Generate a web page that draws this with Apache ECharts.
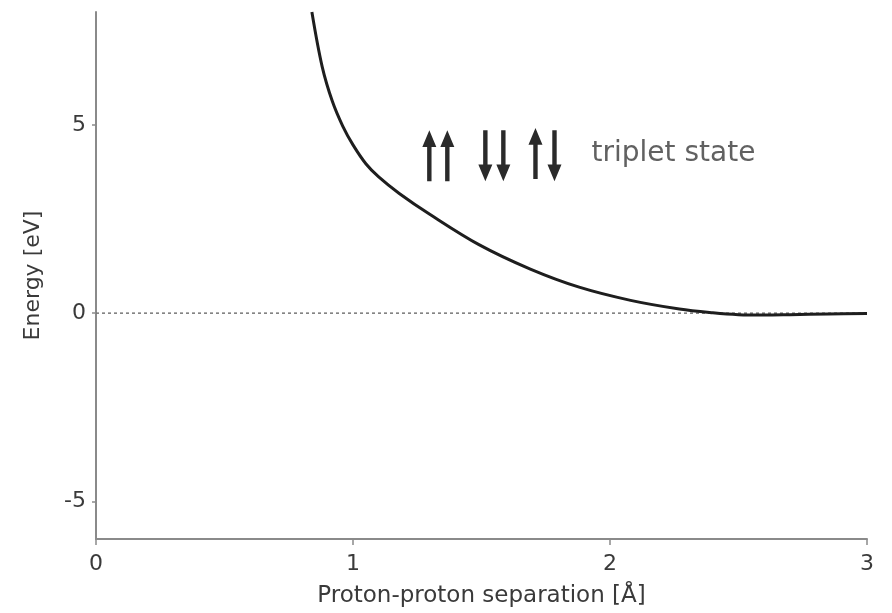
<!DOCTYPE html>
<html><head><meta charset="utf-8">
<script src="https://cdn.jsdelivr.net/npm/echarts@6/dist/echarts.min.js"></script>
<style>html,body{margin:0;padding:0;background:#fff}#c{width:892px;height:613px}</style>
</head><body><div id="c"></div>
<script>
// Triplet-state potential energy curve (Energy in eV vs proton-proton separation in Å)
const sepX = [0.84, 0.88, 0.92, 0.96, 1.00, 1.05, 1.10, 1.18, 1.30, 1.49, 1.69, 1.88, 2.08, 2.27, 2.40, 2.50, 2.60, 2.70, 2.85, 3.0];
const energyY = [8.0, 6.55, 5.62, 4.97, 4.47, 3.97, 3.62, 3.18, 2.62, 1.82, 1.17, 0.69, 0.34, 0.11, 0.01, -0.04, -0.05, -0.04, -0.02, -0.01];
const xTicks = [0, 1, 2, 3];
const yTicks = [-5, 0, 5];
// spin arrows of the triplet state: up-up, down-down, up-down
const arrowDir = ['up', 'up', 'down', 'down', 'up', 'down'];
const arrowX = [1.297, 1.367, 1.515, 1.585, 1.710, 1.784];
const arrowY = [4.18, 4.18, 4.18, 4.18, 4.24, 4.18];
const stateLabel = 'triplet state';
const stateX = 1.928;
const stateY = 4.23;
const xName = 'Proton-proton separation [Å]';
const yName = 'Energy [eV]';

const upPath = 'path://M7,0 L14,17 L9.2,17 L9.2,52 L4.8,52 L4.8,17 L0,17 Z';
const downPath = 'path://M7,52 L14,35 L9.2,35 L9.2,0 L4.8,0 L4.8,35 L0,35 Z';

const chart = echarts.init(document.getElementById('c'));
const axisGray = '#8a8a8a';
const textCol = '#3a3a3a';
const font = 'DejaVu Sans';
chart.setOption({
  animation: false,
  grid: {left: 96, right: 25, top: 12, bottom: 74},
  xAxis: {
    type: 'value', min: 0, max: 3, interval: 1,
    name: xName, nameLocation: 'middle', nameGap: 46,
    nameTextStyle: {fontSize: 23, color: textCol, fontFamily: font},
    axisLine: {show: true, onZero: false, lineStyle: {color: axisGray, width: 2}},
    axisTick: {show: true, length: 6, customValues: xTicks, lineStyle: {color: axisGray, width: 1.5}},
    axisLabel: {fontSize: 22, color: textCol, fontFamily: font, margin: 14, customValues: xTicks},
    splitLine: {show: false}
  },
  yAxis: {
    type: 'value', min: -6, max: 8,
    name: yName, nameLocation: 'middle', nameGap: 52,
    nameTextStyle: {fontSize: 22, color: textCol, fontFamily: font},
    axisLine: {show: true, onZero: false, lineStyle: {color: axisGray, width: 2}},
    axisTick: {show: true, length: 4, customValues: yTicks, lineStyle: {color: axisGray, width: 1.5}},
    axisLabel: {fontSize: 22, color: textCol, fontFamily: font, margin: 10, customValues: yTicks},
    splitLine: {show: false}
  },
  series: [
    {
      type: 'line', data: [[0, 0], [3, 0]], symbol: 'none', silent: true,
      lineStyle: {color: '#777', width: 1.5, type: [3, 3]}, z: 1
    },
    {
      type: 'line', data: sepX.map((x, i) => [x, energyY[i]]), symbol: 'none',
      smooth: 0.35,
      lineStyle: {color: '#1e1e1e', width: 3, join: 'round'}, z: 3
    },
    {
      type: 'scatter', silent: true, symbolSize: [14, 51],
      data: arrowDir.map((d, i) => ({value: [arrowX[i], arrowY[i]], symbol: d === 'up' ? upPath : downPath})),
      itemStyle: {color: '#2a2a2a', opacity: 1}
    },
    {
      type: 'scatter', symbolSize: 0, silent: true,
      data: [{value: [stateX, stateY], name: stateLabel}],
      label: {show: true, position: 'right', distance: 0, formatter: p => p.name,
        fontSize: 28, color: textCol, fontFamily: font}
    }
  ]
});
</script></body></html>
